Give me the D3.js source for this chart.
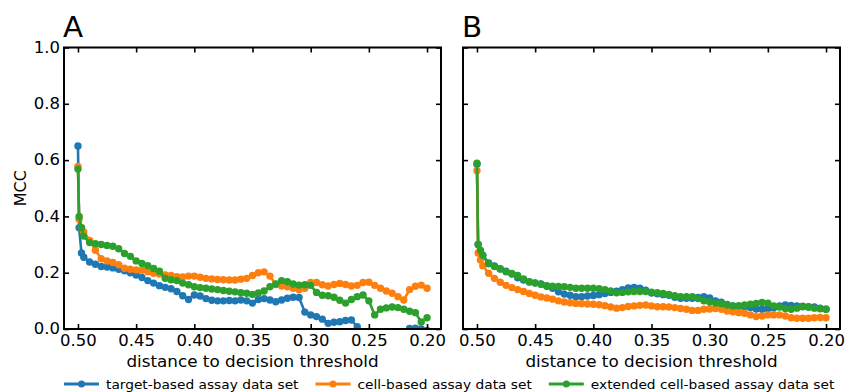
<!DOCTYPE html>
<html>
<head>
<meta charset="utf-8">
<script src="https://cdn.jsdelivr.net/npm/d3@7"></script>
<style>
  html, body { margin: 0; padding: 0; background: #fff; }
  svg { display: block; }
  text { font-family: "DejaVu Sans", sans-serif; fill: #000; }
</style>
</head>
<body>
<svg id="chart" width="846" height="392"></svg>
<script>
// distance to the decision threshold (shared x positions of every curve)
const distance = [
  0.500, 0.499, 0.497, 0.495, 0.490, 0.485, 0.480, 0.475, 0.470, 0.465,
  0.460, 0.455, 0.450, 0.445, 0.440, 0.435, 0.430, 0.425, 0.420, 0.415,
  0.410, 0.405, 0.400, 0.395, 0.390, 0.385, 0.380, 0.375, 0.370, 0.365,
  0.360, 0.355, 0.350, 0.345, 0.340, 0.335, 0.330, 0.325, 0.320, 0.315,
  0.310, 0.305, 0.300, 0.295, 0.290, 0.285, 0.280, 0.275, 0.270, 0.265,
  0.260, 0.255, 0.250, 0.245, 0.240, 0.235, 0.230, 0.225, 0.220, 0.215,
  0.210, 0.205, 0.200
];

// Panel A: MCC per data set
const mccA_target = [
  0.650, 0.360, 0.270, 0.255, 0.238, 0.230, 0.222, 0.220, 0.217, 0.212,
  0.207, 0.200, 0.192, 0.183, 0.172, 0.163, 0.154, 0.148, 0.143, 0.133,
  0.118, 0.105, 0.121, 0.117, 0.108, 0.102, 0.100, 0.100, 0.101, 0.100,
  0.103, 0.100, 0.092, 0.105, 0.108, 0.103, 0.097, 0.103, 0.109, 0.113,
  0.112, 0.060, 0.050, 0.044, 0.035, 0.020, 0.024, 0.026, 0.030, 0.032,
  0.008, -0.020, -0.030, -0.040, -0.040, -0.030, -0.030, -0.020, -0.010, 0.002,
  0.003, 0.000, -0.005
];
const mccA_cell = [
  0.577, 0.390, 0.360, 0.345, 0.315, 0.280, 0.250, 0.242, 0.236, 0.228,
  0.216, 0.212, 0.210, 0.209, 0.203, 0.198, 0.195, 0.192, 0.190, 0.186,
  0.185, 0.188, 0.188, 0.184, 0.180, 0.178, 0.176, 0.175, 0.174, 0.174,
  0.177, 0.180, 0.190, 0.200, 0.203, 0.188, 0.158, 0.153, 0.150, 0.145,
  0.139, 0.145, 0.165, 0.165, 0.157, 0.153, 0.158, 0.162, 0.158, 0.153,
  0.155, 0.165, 0.166, 0.155, 0.145, 0.135, 0.127, 0.115, 0.103, 0.140,
  0.152, 0.156, 0.145
];
const mccA_extended = [
  0.568, 0.400, 0.360, 0.330, 0.307, 0.303, 0.300, 0.297, 0.294, 0.285,
  0.268, 0.258, 0.242, 0.233, 0.225, 0.215, 0.205, 0.180, 0.175, 0.172,
  0.163, 0.157, 0.150, 0.147, 0.145, 0.142, 0.140, 0.137, 0.134, 0.132,
  0.129, 0.127, 0.123, 0.128, 0.135, 0.150, 0.160, 0.172, 0.168, 0.160,
  0.156, 0.157, 0.155, 0.130, 0.120, 0.118, 0.113, 0.102, 0.092, 0.105,
  0.115, 0.121, 0.100, 0.050, 0.070, 0.075, 0.078, 0.076, 0.070, 0.063,
  0.058, 0.025, 0.040
];

// Panel B: MCC per data set
const mccB_target = [
  0.585, 0.300, 0.275, 0.260, 0.235, 0.224, 0.214, 0.205, 0.195, 0.182,
  0.174, 0.167, 0.164, 0.160, 0.152, 0.145, 0.132, 0.124, 0.120, 0.115,
  0.115, 0.117, 0.119, 0.122, 0.126, 0.130, 0.134, 0.140, 0.146, 0.148,
  0.145, 0.138, 0.128, 0.125, 0.122, 0.120, 0.113, 0.109, 0.109, 0.109,
  0.112, 0.115, 0.110, 0.100, 0.095, 0.087, 0.082, 0.080, 0.079, 0.076,
  0.071, 0.070, 0.072, 0.075, 0.082, 0.085, 0.084, 0.082, 0.081, 0.079,
  0.078, 0.074, 0.070
];
const mccB_cell = [
  0.562, 0.270, 0.245, 0.225, 0.198, 0.180, 0.166, 0.155, 0.147, 0.140,
  0.133, 0.126, 0.120, 0.114, 0.110, 0.106, 0.100, 0.096, 0.093, 0.091,
  0.090, 0.089, 0.088, 0.086, 0.083, 0.078, 0.074, 0.076, 0.080, 0.082,
  0.084, 0.085, 0.082, 0.079, 0.079, 0.078, 0.076, 0.073, 0.070, 0.066,
  0.066, 0.070, 0.071, 0.073, 0.070, 0.064, 0.061, 0.058, 0.056, 0.050,
  0.044, 0.046, 0.050, 0.050, 0.050, 0.046, 0.040, 0.038, 0.038, 0.038,
  0.040, 0.041, 0.040
];
const mccB_extended = [
  0.589, 0.300, 0.280, 0.262, 0.232, 0.222, 0.213, 0.203, 0.197, 0.190,
  0.178, 0.168, 0.163, 0.159, 0.154, 0.152, 0.151, 0.150, 0.148, 0.145,
  0.145, 0.145, 0.145, 0.143, 0.140, 0.135, 0.129, 0.130, 0.132, 0.133,
  0.133, 0.133, 0.131, 0.129, 0.126, 0.123, 0.118, 0.115, 0.115, 0.115,
  0.108, 0.100, 0.096, 0.092, 0.090, 0.085, 0.082, 0.083, 0.085, 0.088,
  0.091, 0.094, 0.092, 0.082, 0.078, 0.073, 0.070, 0.074, 0.079, 0.077,
  0.074, 0.072, 0.070
];

const seriesNames = [
  "target-based assay data set",
  "cell-based assay data set",
  "extended cell-based assay data set"
];
const seriesColors = ["#1f77b4", "#ff7f0e", "#2ca02c"];
const xTicks = [0.50, 0.45, 0.40, 0.35, 0.30, 0.25, 0.20];
const yTicks = [0.0, 0.2, 0.4, 0.6, 0.8, 1.0];
const panelLetters = ["A", "B"];
const xLabel = "distance to decision threshold";
const yLabel = "MCC";

// ---- layout ----
const svg = d3.select("#chart");
const plotTop = 47.5, plotBottom = 329, plotWidth = 377;
const panelLefts = [64, 463];
const panelSeries = [
  [mccA_target, mccA_cell, mccA_extended],
  [mccB_target, mccB_cell, mccB_extended]
];
const TEXT_SX = 1.1;   // glyphs are drawn slightly wide

const y = d3.scaleLinear().domain([0, 1]).range([plotBottom, plotTop]);

function styleAxis(g, fontSize) {
  g.select(".domain").remove();
  g.selectAll(".tick line").attr("stroke", "#000").attr("stroke-width", 1.6);
  g.attr("font-family", null).attr("font-size", null);
  g.selectAll("text")
    .style("font-size", fontSize + "px")
    .attr("fill", "#000");
}

panelLefts.forEach((left, p) => {
  const x = d3.scaleLinear().domain([0.512, 0.188]).range([left, left + plotWidth]);
  const g = svg.append("g");

  const clipId = "clip" + p;
  svg.append("clipPath").attr("id", clipId)
    .append("rect")
    .attr("x", left).attr("y", plotTop)
    .attr("width", plotWidth).attr("height", plotBottom - plotTop);

  // curves: line plus dot markers, drawn in series order
  const plot = g.append("g").attr("clip-path", `url(#${clipId})`);
  const line = d3.line().x((d, i) => x(distance[i])).y(d => y(d));
  panelSeries[p].forEach((vals, s) => {
    plot.append("path")
      .datum(vals)
      .attr("d", line)
      .attr("fill", "none")
      .attr("stroke", seriesColors[s])
      .attr("stroke-width", 2.6)
      .attr("stroke-linejoin", "round");
    plot.append("g").selectAll("circle")
      .data(vals)
      .join("circle")
      .attr("cx", (d, i) => x(distance[i]))
      .attr("cy", d => y(d))
      .attr("r", 3.7)
      .attr("fill", seriesColors[s]);
  });

  // axes with inward ticks on all four sides
  const bottom = g.append("g").attr("transform", `translate(0,${plotBottom})`)
    .call(d3.axisBottom(x).tickValues(xTicks).tickFormat(d3.format(".2f"))
      .tickSizeInner(-5).tickSizeOuter(0).tickPadding(6));
  styleAxis(bottom, 15);
  bottom.selectAll("text").attr("transform", `scale(${TEXT_SX},1)`);

  const top = g.append("g").attr("transform", `translate(0,${plotTop})`)
    .call(d3.axisTop(x).tickValues(xTicks).tickFormat("")
      .tickSizeInner(-5).tickSizeOuter(0));
  styleAxis(top, 15);

  const leftAx = g.append("g").attr("transform", `translate(${left},0)`)
    .call(d3.axisLeft(y).tickValues(yTicks)
      .tickFormat(p === 0 ? d3.format(".1f") : "")
      .tickSizeInner(-5).tickSizeOuter(0).tickPadding(4));
  styleAxis(leftAx, 15);
  leftAx.selectAll("text")
    .attr("x", -4 / TEXT_SX)
    .attr("transform", `scale(${TEXT_SX},1)`);

  const rightAx = g.append("g").attr("transform", `translate(${left + plotWidth},0)`)
    .call(d3.axisRight(y).tickValues(yTicks).tickFormat("")
      .tickSizeInner(-5).tickSizeOuter(0));
  styleAxis(rightAx, 15);

  // frame
  g.append("rect")
    .attr("x", left).attr("y", plotTop)
    .attr("width", plotWidth).attr("height", plotBottom - plotTop)
    .attr("fill", "none").attr("stroke", "#000").attr("stroke-width", 2);

  // x label
  g.append("text")
    .attr("transform", `translate(${left + plotWidth / 2},367) scale(1.05,1)`)
    .attr("text-anchor", "middle")
    .style("font-size", "16px")
    .text(xLabel);

  // panel letter
  g.append("text")
    .attr("transform", `translate(${left - 1},36.5) scale(1.05,1)`)
    .style("font-size", "28px")
    .text(panelLetters[p]);
});

// y label
svg.append("text")
  .attr("transform", `translate(26,${(plotTop + plotBottom) / 2}) rotate(-90)`)
  .attr("text-anchor", "middle")
  .style("font-size", "16px")
  .text(yLabel);

// legend
const legend = svg.append("g").attr("transform", "translate(0,384)");
let lx = 64;
seriesNames.forEach((name, s) => {
  const item = legend.append("g").attr("transform", `translate(${lx},0)`);
  item.append("line")
    .attr("x1", 0).attr("x2", 35).attr("y1", 0).attr("y2", 0)
    .attr("stroke", seriesColors[s]).attr("stroke-width", 3);
  item.append("circle")
    .attr("cx", 17.5).attr("cy", 0).attr("r", 3.5)
    .attr("fill", seriesColors[s]);
  const t = item.append("text")
    .attr("transform", `translate(42,5) scale(${TEXT_SX},1)`)
    .style("font-size", "12.5px")
    .text(name);
  lx += 42 + t.node().getComputedTextLength() * TEXT_SX + 17;
});
</script>
</body>
</html>
